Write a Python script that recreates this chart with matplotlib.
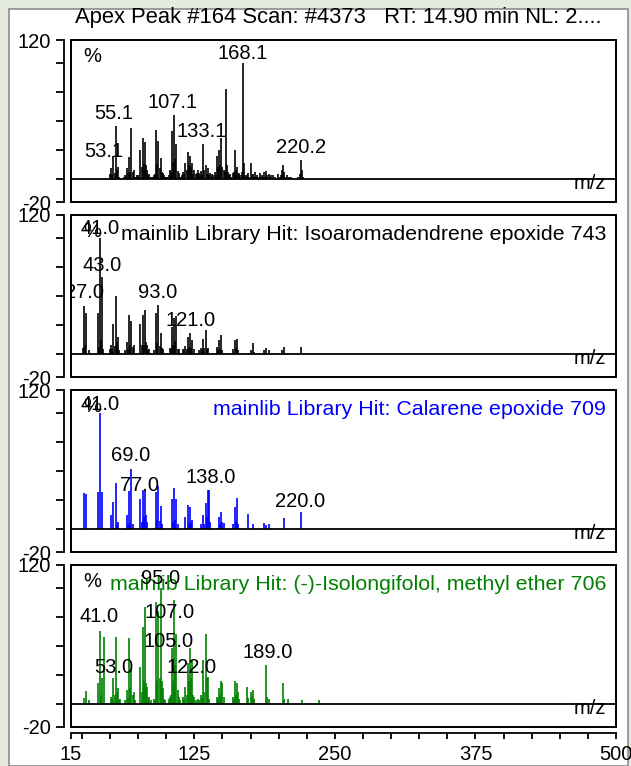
import matplotlib
matplotlib.use('Agg')
import matplotlib.pyplot as plt
from matplotlib.patches import Rectangle

plt.rcParams['font.family'] = ['Liberation Sans', 'DejaVu Sans']

# measured spectrum (apex peak #164)
apex_mz = [50, 51, 52, 53, 54, 55, 56, 57, 58, 59,
           62, 63, 64, 65, 66, 67, 68, 69, 70, 71, 72, 73, 74, 75, 76,
           77, 78, 79, 80, 81, 82, 83, 84, 85, 86, 87, 88,
           89, 90, 91, 92, 93, 94, 95, 96, 97, 98, 99, 100, 101,
           102, 103, 104, 105, 106, 107, 108, 109, 110, 111, 112, 113, 114,
           115, 116, 117, 118, 119, 120, 121, 122, 123, 124, 125,
           126, 127, 128, 129, 130, 131, 132, 133, 134, 135, 136, 137, 138, 139, 140,
           141, 142, 143, 144, 145, 146, 147, 148, 149, 150, 151, 152, 153, 154, 155, 156,
           157, 158, 159, 160, 161, 162, 163, 164, 165, 166, 167, 168, 169, 170, 171, 172,
           173, 174, 175, 176, 177, 178, 179, 180, 181, 182, 183, 184, 185, 186, 187, 188,
           189, 190, 191, 192, 193, 195, 197,
           199, 201, 202, 203, 204, 205, 206, 207, 209, 211, 213, 217, 219, 220, 221, 222]
apex_int = [4, 9, 3, 20, 5, 46, 8, 10, 2, 1,
            2, 3, 2, 9, 5, 19, 6, 44, 6, 8, 2, 2, 3, 3, 2,
            25, 10, 35, 13, 32, 12, 8, 3, 4, 2, 2, 2,
            3, 4, 42, 13, 33, 9, 18, 6, 5, 3, 2, 2, 2,
            3, 8, 6, 41, 15, 55, 17, 30, 7, 5, 2, 2, 3,
            6, 4, 14, 8, 23, 12, 20, 10, 14, 4, 8,
            4, 5, 8, 5, 3, 7, 4, 30, 8, 12, 4, 9, 3, 5, 2,
            4, 3, 6, 3, 20, 10, 25, 12, 35, 10, 8, 6, 78, 12, 6, 3,
            4, 2, 5, 6, 25, 8, 10, 4, 5, 3, 6, 100, 14, 3, 2, 3,
            5, 2, 14, 3, 4, 2, 6, 2, 3, 2, 5, 2, 3, 2, 6, 2,
            7, 3, 4, 2, 3, 3, 2,
            4, 2, 3, 8, 12, 6, 2, 3, 2, 2, 1, 2, 4, 16, 8, 2]

# library hit 1: Isoaromadendrene epoxide
iso_mz = [26, 27, 28, 29, 31, 39, 40, 41, 42, 43, 44,
          50, 51, 52, 53, 54, 55, 56, 57, 58,
          63, 65, 66, 67, 68, 69, 70, 71,
          77, 78, 79, 80, 81, 82, 83, 84, 85,
          89, 91, 92, 93, 94, 95, 96, 97,
          103, 104, 105, 106, 107, 108, 109, 110, 111,
          115, 116, 117, 118, 119, 120, 121, 122, 123, 125,
          129, 131, 132, 133, 134, 135, 136, 137,
          145, 146, 147, 148, 149, 150,
          159, 161, 162, 163, 164,
          175, 177, 178, 187, 189, 191, 203, 205, 220]
iso_int = [5, 41, 8, 35, 3, 35, 6, 100, 12, 66, 4,
           4, 8, 4, 26, 7, 50, 10, 15, 3,
           3, 10, 4, 34, 8, 28, 6, 8,
           26, 8, 34, 8, 38, 10, 8, 3, 4,
           3, 35, 9, 42, 7, 18, 5, 4,
           5, 4, 23, 8, 31, 11, 33, 4, 4,
           4, 3, 7, 4, 15, 6, 18, 5, 12, 4,
           3, 5, 3, 13, 5, 21, 4, 5,
           6, 3, 12, 4, 16, 3,
           4, 12, 5, 13, 3,
           3, 9, 2, 3, 5, 3, 3, 6, 6]

# library hit 2: Calarene epoxide
cal_mz = [27, 29, 39, 41, 43,
          51, 53, 55, 56, 57,
          65, 66, 67, 68, 69, 70,
          77, 78, 79, 80, 81, 82, 83,
          91, 92, 93, 94, 95, 96,
          105, 106, 107, 108, 109, 110,
          117, 119, 120, 121, 122, 123,
          131, 133, 134, 135, 136, 137, 138, 139,
          147, 148, 149, 150, 151,
          159, 161, 162, 163, 164,
          173, 177, 187, 189, 191, 205, 220]
cal_int = [31, 30, 32, 100, 32,
           12, 23, 40, 4, 6,
           12, 3, 33, 5, 52, 4,
           26, 6, 34, 10, 33, 12, 6,
           32, 8, 37, 7, 20, 4,
           26, 6, 35, 8, 26, 4,
           10, 21, 5, 19, 6, 8,
           4, 12, 4, 22, 10, 34, 34, 6,
           10, 4, 15, 6, 5,
           4, 19, 7, 27, 4,
           13, 4, 5, 3, 4, 9, 15]

# library hit 3: (-)-Isolongifolol, methyl ether
lon_mz = [27, 29, 31, 39, 41, 42, 43, 45, 51, 52, 53, 54, 55, 56, 57, 58, 59,
          63, 65, 66, 67, 68, 69, 70, 71, 72,
          77, 78, 79, 80, 81, 82, 83, 84, 85, 86,
          89, 90, 91, 92, 93, 94, 95, 96, 97, 98, 99,
          102, 103, 104, 105, 106, 107, 108, 109, 110, 111, 112,
          115, 116, 117, 118, 119, 120, 121, 122, 123, 124, 125, 126,
          128, 129, 131, 132, 133, 134, 135, 136, 137, 138,
          145, 146, 147, 148, 149, 150, 151,
          159, 160, 161, 162, 163, 164, 165,
          172, 173, 175, 176, 177, 178,
          189, 190, 191, 204, 205, 208, 221, 236]
lon_int = [5, 11, 3, 18, 63, 8, 22, 58, 6, 4, 22, 8, 58, 10, 14, 3, 4,
           3, 12, 5, 57, 14, 30, 8, 10, 3,
           32, 10, 66, 20, 84, 18, 15, 5, 6, 3,
           4, 3, 88, 20, 80, 22, 100, 20, 14, 4, 3,
           4, 6, 8, 48, 20, 90, 34, 60, 12, 6, 3,
           6, 4, 15, 8, 35, 20, 48, 22, 38, 8, 6, 3,
           4, 3, 8, 5, 38, 10, 60, 22, 23, 4,
           6, 4, 14, 8, 20, 18, 6,
           6, 4, 20, 8, 18, 10, 4,
           15, 5, 10, 6, 12, 4,
           34, 6, 4, 18, 4, 4, 3, 3]

titles = ['', 'mainlib Library Hit: Isoaromadendrene epoxide 743',
          'mainlib Library Hit: Calarene epoxide 709',
          'mainlib Library Hit: (-)-Isolongifolol, methyl ether 706']
colors = ['black', 'black', '#0000ff', '#008000']

# peak labels: text, x (m/z), y (text baseline, %)
labels = [
    [('55.1', 53.5, 52), ('53.1', 44.6, 19), ('107.1', 106, 61),
     ('133.1', 131.8, 36), ('168.1', 168.3, 104), ('220.2', 219.9, 22)],
    [('41.0', 41.1, 104), ('43.0', 42.8, 72), ('27.0', 27.7, 48),
     ('93.0', 92.7, 48), ('121.0', 122, 24)],
    [('41.0', 41, 102.5), ('69.0', 68.6, 59), ('77.0', 75.8, 32.5),
     ('138.0', 139.8, 39.5), ('220.0', 219.1, 19.3)],
    [('95.0', 95.3, 103.5), ('41.0', 40.2, 71), ('107.0', 102.5, 74.6),
     ('105.0', 101.6, 49), ('53.0', 53.5, 26.3), ('122.0', 122.9, 26.3),
     ('189.0', 190, 39.5)],
]

spectra = [(apex_mz, apex_int), (iso_mz, iso_int), (cal_mz, cal_int), (lon_mz, lon_int)]

W, H = 631, 766
fig = plt.figure(figsize=(W / 100, H / 100), dpi=100)
fig.patch.set_facecolor('#e4eadc')
fig.add_artist(Rectangle((9 / W, 0), 619 / W, 1 - 9 / H, transform=fig.transFigure,
                         facecolor='white', edgecolor='#8c8c8c', lw=1.2, zorder=-5))

fig.text(338 / W, 1 - 18 / H, 'Apex Peak #164 Scan: #4373   RT: 14.90 min NL: 2....',
         ha='center', va='center', fontsize=15.8)

fs = 14.5
left, right = 70.7, 616
tops = [40, 215, 390, 565]
ph = 162
xt = [15] + list(range(25, 501, 25))
for i, (mz, inten) in enumerate(spectra):
    ax = fig.add_axes([left / W, 1 - (tops[i] + ph) / H, (right - left) / W, ph / H])
    ax.set_facecolor('none')
    ax.set_xlim(15, 500)
    ax.set_ylim(-20, 120)
    ax.vlines(mz, 0, inten, colors=colors[i], lw=1.2)
    ax.axhline(0, color='black', lw=1.3)
    ax.add_patch(Rectangle((0, 0), 1, 1, transform=ax.transAxes, fill=False,
                           ec='black', lw=1.4, clip_on=False, zorder=5))
    for s in ['top', 'right', 'bottom']:
        ax.spines[s].set_visible(False)
    ax.spines['left'].set_position(('outward', 5))
    ax.spines['left'].set_linewidth(1.3)
    ax.set_yticks([-20, 0, 25, 50, 75, 100, 120])
    ax.set_yticklabels(['-20', '', '', '', '', '', '120'])
    ax.tick_params(axis='y', direction='out', length=5.5, width=1.3, pad=4, labelsize=fs)
    if i == 3:
        ax.spines['bottom'].set_visible(True)
        ax.spines['bottom'].set_position(('outward', 4.3))
        ax.spines['bottom'].set_linewidth(1.3)
        ax.set_xticks(xt)
        ax.set_xticklabels([str(t) if t in (15, 125, 250, 375, 500) else '' for t in xt])
        ax.tick_params(axis='x', direction='out', length=4, width=1.3, pad=5, labelsize=fs)
    else:
        ax.set_xticks([])
    ax.text(12.3 / (right - left), 1 - 16.5 / ph, '%', transform=ax.transAxes,
            ha='left', va='center', fontsize=fs)
    if titles[i]:
        ax.text(0.9817, 1 - 19 / ph, titles[i], transform=ax.transAxes,
                ha='right', va='center', fontsize=15.4, color=colors[i])
    ax.text(0.9817, 4.5, 'm/z', transform=ax.get_yaxis_transform(),
            ha='right', va='top', fontsize=fs)
    for txt, lx, ly in labels[i]:
        ax.text(lx, ly, txt, ha='center', va='baseline', fontsize=fs, clip_on=True, zorder=6)

fig.savefig('out.png', dpi=100)
